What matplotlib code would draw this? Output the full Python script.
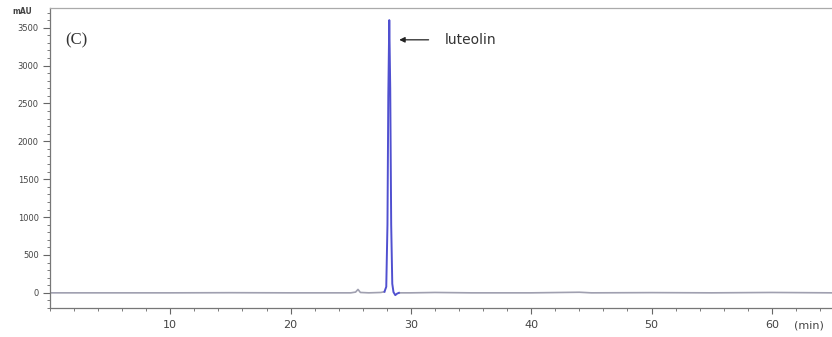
import numpy as np
import matplotlib.pyplot as plt
from matplotlib.ticker import MultipleLocator

# chromatogram (time in min, absorbance in mAU)
base_time = [0.0, 5.0, 10.0, 15.0, 20.0, 25.0, 25.4, 25.6, 25.8, 26.5, 27.5, 27.8]
base_mau = [0, 0, 0, 2, 0, 0, 10, 45, 5, 0, 5, 15]

peak_time = [27.8, 27.95, 28.05, 28.12, 28.2, 28.28, 28.36, 28.45, 28.55, 28.7, 28.85, 29.0]
peak_mau = [15, 80, 900, 2600, 3600, 2700, 900, 120, 10, -30, -10, 0]

tail_time = [29.0, 30.0, 32.0, 35.0, 40.0, 44.0, 45.0, 50.0, 55.0, 60.0, 62.0, 65.0]
tail_mau = [0, 0, 5, 0, 0, 8, 0, 3, 0, 5, 3, 0]

peak_name = 'luteolin'
panel_label = '(C)'

fig = plt.figure(figsize=(8.32, 3.37), dpi=100)
ax = fig.add_axes([50 / 832, 29 / 337, 782 / 832, 300 / 337])

ax.plot(base_time, base_mau, color='#a0a0b0', lw=1.2)
ax.plot(tail_time, tail_mau, color='#a0a0b0', lw=1.2)
ax.plot(peak_time, peak_mau, color='#5050d0', lw=1.4)

ax.set_xlim(0, 65)
ax.set_ylim(-200, 3760)

ax.xaxis.set_major_locator(MultipleLocator(10))
ax.xaxis.set_minor_locator(MultipleLocator(2))
ax.yaxis.set_major_locator(MultipleLocator(500))
ax.yaxis.set_minor_locator(MultipleLocator(100))
ax.set_xticks([10, 20, 30, 40, 50, 60])

ax.tick_params(axis='x', which='major', labelsize=8, length=4, color='#666666',
               labelcolor='#444444', pad=5)
ax.tick_params(axis='y', which='major', labelsize=6, length=5, color='#666666',
               labelcolor='#444444', pad=3)
ax.tick_params(which='minor', length=2, color='#666666')

for s in ['left', 'bottom', 'top']:
    ax.spines[s].set_color('#777777')
    ax.spines[s].set_linewidth(0.9)
ax.spines['top'].set_color('#aaaaaa')
ax.spines['right'].set_visible(False)

ax.text(-0.035, 0.988, 'mAU', transform=ax.transAxes, fontsize=5.5,
        color='#444444', ha='center', va='center', fontweight='bold')
ax.text(0.99, -0.057, '(min)', transform=ax.transAxes, fontsize=8,
        color='#444444', ha='right', va='center')

ax.text(0.02, 0.893, panel_label, transform=ax.transAxes, fontsize=12,
        family='Liberation Serif', color='#333333', va='center')

ax.annotate('', xy=(28.8, 3340), xytext=(31.7, 3340),
            arrowprops=dict(arrowstyle='-|>', color='#222222', lw=0.9,
                            mutation_scale=8))
ax.text(32.8, 3340, peak_name, fontsize=10, color='#333333', va='center')

fig.savefig('out.png', dpi=100)
